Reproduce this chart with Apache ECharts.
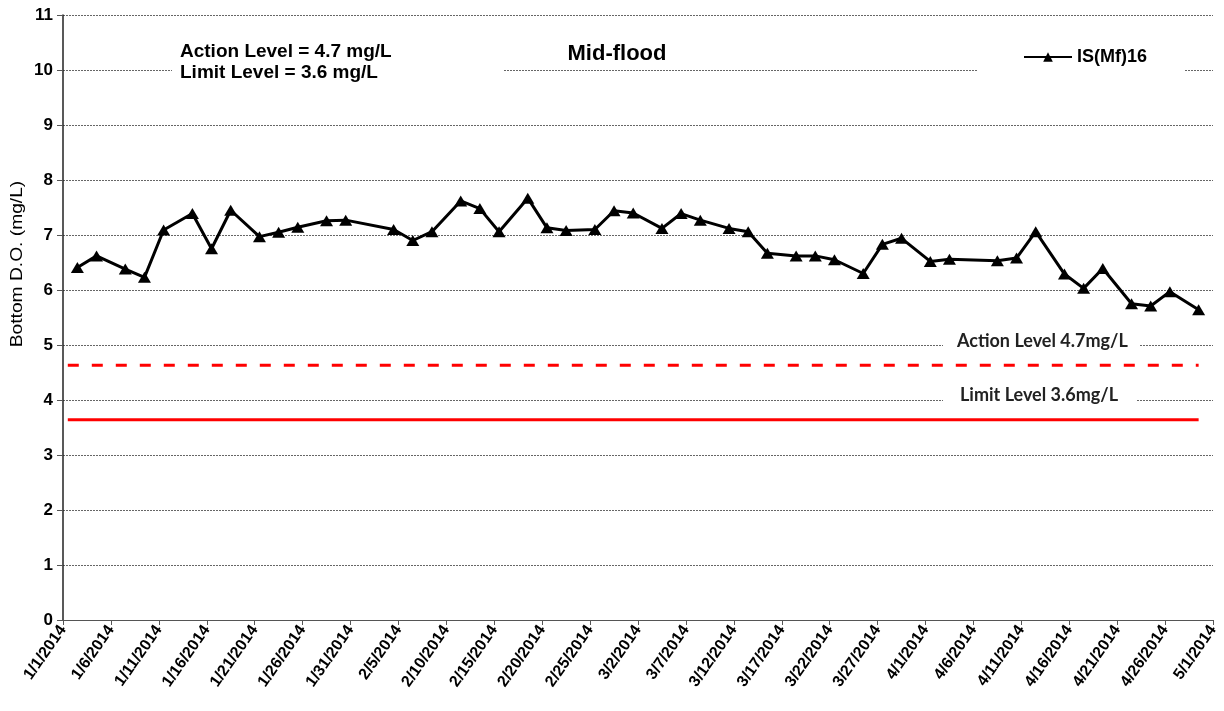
<!DOCTYPE html>
<html>
<head>
<meta charset="utf-8">
<script src="https://cdn.jsdelivr.net/npm/echarts@6/dist/echarts.min.js"></script>
<style>
  html, body { margin: 0; padding: 0; background: #fff; }
  #chart { width: 1224px; height: 711px; }
</style>
</head>
<body>
<div id="chart"></div>
<script>
// sampling dates and bottom DO readings (mg/L)
const sampleDates = [
  "1/2/2014", "1/4/2014", "1/7/2014", "1/9/2014", "1/11/2014", "1/14/2014", "1/16/2014",
  "1/18/2014", "1/21/2014", "1/23/2014", "1/25/2014", "1/28/2014", "1/30/2014",
  "2/4/2014", "2/6/2014", "2/8/2014", "2/11/2014", "2/13/2014", "2/15/2014", "2/18/2014",
  "2/20/2014", "2/22/2014", "2/25/2014", "2/27/2014", "3/1/2014", "3/4/2014", "3/6/2014",
  "3/8/2014", "3/11/2014", "3/13/2014", "3/15/2014", "3/18/2014", "3/20/2014", "3/22/2014",
  "3/25/2014", "3/27/2014", "3/29/2014", "4/1/2014", "4/3/2014", "4/8/2014", "4/10/2014",
  "4/12/2014", "4/15/2014", "4/17/2014", "4/19/2014", "4/22/2014", "4/24/2014", "4/26/2014",
  "4/29/2014"
];
const doValues = [
  6.41, 6.62, 6.38, 6.23, 7.09, 7.39, 6.75, 7.45, 6.97, 7.05,
  7.14, 7.26, 7.27, 7.10, 6.90, 7.06, 7.62, 7.48, 7.06, 7.67,
  7.13, 7.08, 7.10, 7.44, 7.40, 7.12, 7.39, 7.27, 7.12, 7.06,
  6.67, 6.62, 6.62, 6.55, 6.30, 6.83, 6.94, 6.52, 6.56, 6.53,
  6.58, 7.06, 6.29, 6.03, 6.39, 5.75, 5.71, 5.97, 5.64
];
const levelDates = ["1/1/2014", "4/29/2014"];
const actionLine = [4.63, 4.63];
const limitLine = [3.64, 3.64];

const axisStart = "1/1/2014", axisDays = 120, tickDays = 5;
const yMax = 11;

const DAY = 86400000;
const toMs = (s) => { const [m, d, y] = s.split("/").map(Number); return Date.UTC(y, m - 1, d); };
const base = toMs(axisStart);
// points sit in the middle of their day slot
const dayPos = (s) => (toMs(s) - base) / DAY + 0.5;
const dayLabel = (v) => { const d = new Date(base + v * DAY); return `${d.getUTCMonth() + 1}/${d.getUTCDate()}/${d.getUTCFullYear()}`; };

const chart = echarts.init(document.getElementById("chart"));
const ARIAL = "'Liberation Sans', Arial, sans-serif";
const CALIBRI = "Lato, 'Open Sans', sans-serif";

chart.setOption({
  animation: false,
  backgroundColor: "#fff",
  grid: { left: 63, right: 11, top: 15, bottom: 91, containLabel: false },
  legend: {
    data: ["IS(Mf)16"],
    left: 977, top: 42,
    padding: [6, 38, 16, 46],
    backgroundColor: "#fff",
    itemWidth: 48, itemHeight: 12, itemGap: 4,
    textStyle: { fontFamily: ARIAL, fontWeight: "bold", fontSize: 18, color: "#000" },
    z: 20
  },
  xAxis: {
    type: "value", min: 0, max: axisDays, interval: tickDays,
    axisLine: { lineStyle: { color: "#555", width: 1 } },
    axisTick: { show: true, length: 5, lineStyle: { color: "#555" } },
    splitLine: { show: false },
    axisLabel: {
      rotate: 55, margin: 7, formatter: dayLabel,
      fontFamily: ARIAL, fontWeight: "bold", fontSize: 16, color: "#000"
    }
  },
  yAxis: {
    type: "value", min: 0, max: yMax, interval: 1,
    axisLine: { show: true, lineStyle: { color: "#222", width: 1.5 } },
    axisTick: { show: true, length: 6, lineStyle: { color: "#555" } },
    axisLabel: { margin: 10, fontFamily: ARIAL, fontWeight: "bold", fontSize: 17, color: "#000" },
    splitLine: { show: true, lineStyle: { color: "#666", width: 1, type: [2, 1] } }
  },
  graphic: [
    { type: "text", x: 18, y: 264, rotation: Math.PI / 2, scaleX: 1.2, z: 11,
      style: { text: "Bottom D.O. (mg/L)", font: "16px " + ARIAL, fill: "#000", align: "center", verticalAlign: "middle" } },
    { type: "rect", shape: { x: 172, y: 38, width: 331, height: 52 }, style: { fill: "#fff" }, z: 10 },
    { type: "text", x: 180, y: 41, z: 11,
      style: { text: "Action Level = 4.7 mg/L\nLimit Level = 3.6 mg/L", font: "bold 19px " + ARIAL, lineHeight: 21, fill: "#000" } },
    { type: "text", x: 617, y: 43, z: 11,
      style: { text: "Mid-flood", font: "bold 22px " + ARIAL, fill: "#000", align: "center" } },
    { type: "rect", shape: { x: 943, y: 328, width: 197, height: 28 }, style: { fill: "#fff" }, z: 10 },
    { type: "text", x: 957, y: 332, z: 11,
      style: { text: "Action Level 4.7mg/L", font: "bold 18px " + CALIBRI, fill: "#222" } },
    { type: "rect", shape: { x: 943, y: 383, width: 194, height: 28 }, style: { fill: "#fff" }, z: 10 },
    { type: "text", x: 960, y: 386, z: 11,
      style: { text: "Limit Level 3.6mg/L", font: "bold 18px " + CALIBRI, fill: "#222" } }
  ],
  series: [
    {
      name: "IS(Mf)16", type: "line",
      data: sampleDates.map((d, i) => [dayPos(d), doValues[i]]),
      symbol: "triangle", symbolSize: [13, 11],
      lineStyle: { color: "#000", width: 3 },
      itemStyle: { color: "#000" },
      z: 5
    },
    {
      name: "Action", type: "line",
      data: levelDates.map((d, i) => [dayPos(d), actionLine[i]]),
      symbol: "none",
      lineStyle: { color: "#ff0000", width: 3, type: [11, 13] },
      z: 4
    },
    {
      name: "Limit", type: "line",
      data: levelDates.map((d, i) => [dayPos(d), limitLine[i]]),
      symbol: "none",
      lineStyle: { color: "#ff0000", width: 3 },
      z: 4
    }
  ]
});
</script>
</body>
</html>
